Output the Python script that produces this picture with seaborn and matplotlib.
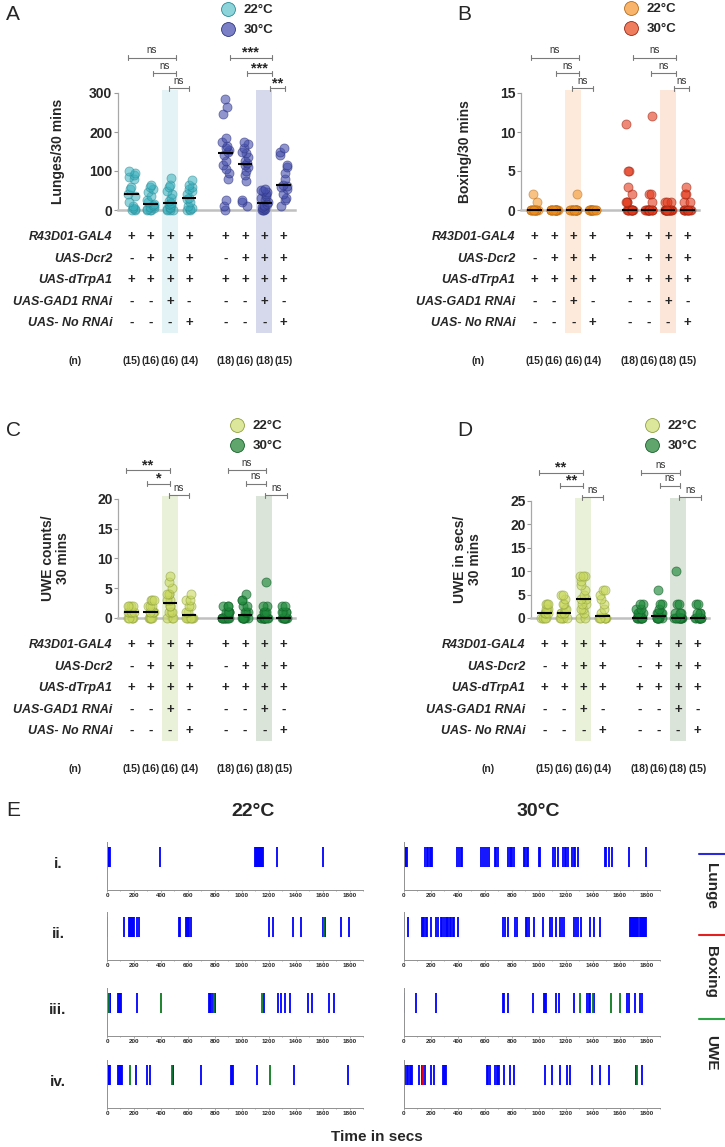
import numpy as np
import pandas as pd
import matplotlib
import matplotlib.pyplot as plt
import matplotlib.transforms as mtransforms
import matplotlib.ticker as mticker
from matplotlib.lines import Line2D
import seaborn as sns
matplotlib.use("Agg")

# ---------------- data ----------------
positions = [0, 1, 2, 3, 4.9, 5.9, 6.9, 7.9]
temps = ["22°C"] * 4 + ["30°C"] * 4
n_labels = ["(15)", "(16)", "(16)", "(14)", "(18)", "(16)", "(18)", "(15)"]

row_names = ["R43D01-GAL4", "UAS-Dcr2", "UAS-dTrpA1", "UAS-GAD1 RNAi", "UAS- No RNAi"]
gal4 = ["+", "+", "+", "+", "+", "+", "+", "+"]
dcr2 = ["-", "+", "+", "+", "-", "+", "+", "+"]
trpa1 = ["+", "+", "+", "+", "+", "+", "+", "+"]
gad1 = ["-", "-", "+", "-", "-", "-", "+", "-"]
no_rnai = ["-", "-", "-", "+", "-", "-", "-", "+"]

lunges = [
    [0, 0, 2, 5, 10, 20, 35, 40, 55, 60, 80, 85, 90, 95, 100],
    [0, 0, 0, 2, 5, 8, 10, 14, 16, 20, 25, 35, 45, 55, 60, 65],
    [0, 0, 0, 2, 5, 8, 12, 16, 18, 22, 30, 40, 50, 60, 65, 82],
    [0, 0, 2, 5, 10, 20, 28, 32, 40, 50, 55, 60, 65, 78],
    [0, 10, 25, 80, 95, 105, 115, 125, 140, 150, 155, 160, 165, 175, 185, 245, 265, 285],
    [10, 20, 25, 75, 90, 100, 110, 115, 120, 125, 135, 145, 150, 160, 170, 175],
    [0, 0, 0, 2, 5, 8, 10, 12, 15, 20, 25, 30, 35, 40, 45, 50, 52, 55],
    [10, 25, 30, 40, 55, 60, 62, 65, 80, 95, 110, 115, 140, 150, 160],
]
boxing = [
    [0] * 13 + [1, 2],
    [0] * 16,
    [0] * 15 + [2],
    [0] * 14,
    [0] * 10 + [1, 1, 1, 2, 3, 5, 5, 11],
    [0] * 12 + [1, 2, 2, 12],
    [0] * 15 + [1, 1, 1],
    [0] * 10 + [1, 1, 2, 2, 3],
]
uwe_counts = [
    [0] * 5 + [1] * 6 + [2] * 4,
    [0] * 5 + [1] * 5 + [2] * 3 + [3] * 3,
    [0, 0, 0, 1, 1, 1, 2, 2, 3, 3, 4, 4, 4, 5, 6, 7],
    [0] * 7 + [1, 1, 2, 2, 3, 3, 4],
    [0] * 10 + [1] * 5 + [2] * 3,
    [0] * 8 + [1, 1, 1, 2, 2, 3, 3, 4],
    [0] * 11 + [1] * 4 + [2, 2, 6],
    [0] * 9 + [1] * 4 + [2] * 2,
]
uwe_secs = [
    [0] * 5 + [1] * 4 + [2] * 3 + [3] * 3,
    [0, 0, 0, 0, 0, 1, 1, 1, 1, 2, 2, 3, 3, 4, 5, 5],
    [0, 0, 1, 2, 2, 3, 3, 4, 4, 5, 6, 7, 8, 9, 9, 9],
    [0] * 7 + [1, 2, 3, 4, 5, 6, 6],
    [0] * 10 + [1] * 4 + [2, 2, 3, 3],
    [0] * 8 + [1] * 4 + [2, 3, 3, 6],
    [0] * 12 + [1] * 3 + [3, 3, 10],
    [0] * 10 + [1] * 3 + [3, 3],
]

# ethograms (event times in secs)
x_ticks_time = [0, 200, 400, 600, 800, 1000, 1200, 1400, 1600, 1800]
eth_22_lunge = [
    [0, 6, 12, 18, 24, 396, 1095, 1103, 1110, 1118, 1126, 1134, 1142, 1150, 1160, 1262, 1603],
    [2, 126, 165, 172, 180, 188, 196, 203, 225, 234, 535, 545, 585, 592, 600, 610, 620,
     1205, 1232, 1380, 1437, 1603, 1620, 1738, 1795],
    [0, 5, 20, 25, 82, 90, 98, 106, 225, 755, 765, 775, 785, 800, 1165, 1270, 1288,
     1318, 1355, 1490, 1523, 1647, 1684],
    [0, 6, 12, 18, 24, 80, 88, 96, 104, 112, 218, 298, 316, 490, 695, 918, 926, 934,
     1113, 1390, 1788],
]
eth_22_box = [[], [], [], []]
eth_22_uwe = [[], [1612], [12, 400, 795, 1152], [168, 480, 1207]]

eth_30_lunge = [
    [0, 8, 16, 25, 158, 168, 178, 190, 200, 210, 392, 410, 420, 432, 571, 590, 600, 615,
     630, 672, 685, 700, 775, 785, 795, 805, 815, 890, 900, 910, 922, 1000, 1010, 1108,
     1118, 1140, 1180, 1195, 1205, 1218, 1250, 1262, 1272, 1288, 1490, 1502, 1520, 1545,
     1670, 1795],
    [0, 30, 133, 142, 150, 160, 172, 199, 238, 252, 275, 285, 300, 310, 318, 330, 340,
     350, 362, 370, 402, 735, 750, 770, 826, 836, 902, 912, 928, 965, 1030, 1087, 1102,
     1130, 1160, 1175, 1190, 1262, 1278, 1295, 1312, 1380, 1410, 1458, 1676, 1684, 1692,
     1700, 1708, 1716, 1724, 1732, 1740, 1748, 1756, 1764, 1772, 1780, 1788, 1796],
    [0, 87, 236, 735, 745, 770, 961, 1038, 1046, 1055, 1130, 1150, 1262, 1360, 1370,
     1380, 1410, 1658, 1668, 1713, 1750, 1765],
    [2, 10, 25, 33, 41, 49, 57, 112, 132, 140, 156, 199, 224, 286, 295, 305, 315, 613,
     625, 640, 678, 688, 698, 708, 740, 790, 819, 1050, 1100, 1160, 1209, 1229, 1395,
     1453, 1520, 1721, 1770],
]
eth_30_box = [[], [], [], [144]]
eth_30_uwe = [[], [], [1304, 1403, 1540, 1602], [1726]]
row_ids = ["i.", "ii.", "iii.", "iv."]

# ---------------- style ----------------
sns.set_style("ticks")
plt.rcParams["font.family"] = ["Liberation Sans", "DejaVu Sans"]
np.random.seed(4)

W, H = 725, 1147
fig = plt.figure(figsize=(W / 100, H / 100), dpi=100)


def px_axes(left, top, right, bottom):
    return fig.add_axes([left / W, 1 - bottom / H, (right - left) / W, (bottom - top) / H])


def make_df(values):
    rows = []
    for pos, t, vals in zip(positions, temps, values):
        for v in vals:
            rows.append({"pos": pos, "temp": t, "value": v})
    return pd.DataFrame(rows)


def scatter_panel(ax, values, top_px, bottom_px, ylim, yticks, ylabel, label_x,
                  cols, shade, brackets, legend_xy):
    hpx = bottom_px - top_px
    df = make_df(values)
    trans = mtransforms.blended_transform_factory(ax.transData, ax.transAxes)

    # shaded columns
    for pos, sc in zip([positions[2], positions[6]], shade):
        ax.axvspan(pos - 0.42, pos + 0.42, ymin=-123 / hpx, ymax=1 + 3 / hpx,
                   color=sc, lw=0, zorder=0, clip_on=False)

    for t, (fc, ec, al, _) in zip(["22°C", "30°C"], cols):
        sub = df[df["temp"] == t]
        sns.stripplot(data=sub, x="pos", y="value", native_scale=True, orient="x",
                      jitter=0.2, size=6.5, color=fc, edgecolor=ec, linewidth=0.6,
                      alpha=al, ax=ax, zorder=3)
    for c in ax.collections:
        c.set_clip_on(False)

    med = df.groupby("pos")["value"].median()
    ax.hlines(med.values, med.index - 0.38, med.index + 0.38, color="black",
              lw=1.5, zorder=5, clip_on=False)

    ax.set_xlim(-0.7, 8.5)
    ax.set_ylim(*ylim)
    ax.set_yticks(yticks)
    ax.set_xticks([])
    ax.set_xlabel("")
    ax.set_ylabel(ylabel, fontsize=10, fontweight="bold", linespacing=1.1)
    ax.yaxis.set_label_coords(label_x, 0.5)
    for lab in ax.get_yticklabels():
        lab.set_fontweight("bold")
    ax.tick_params(axis="y", labelsize=10, color="#9a9a9a", length=3, width=0.8, pad=1)
    sns.despine(ax=ax)
    ax.spines["left"].set_color("#a8a8a8")
    ax.spines["left"].set_linewidth(0.9)
    ax.spines["bottom"].set_color("#c0c0c0")
    ax.spines["bottom"].set_linewidth(1.8)
    ax.patch.set_alpha(0)

    # genotype table
    table = [gal4, dcr2, trpa1, gad1, no_rnai]
    offs = [27, 49, 70, 92, 113]
    for name, row, off in zip(row_names, table, offs):
        yf = -off / hpx
        ax.text(-0.03, yf, name, transform=ax.transAxes, ha="right", va="center",
                fontsize=9, fontweight="bold", fontstyle="italic")
        for pos, s in zip(positions, row):
            ax.text(pos, yf, s, transform=trans, ha="center", va="center",
                    fontsize=9.5, fontweight="bold")
    yn = -151 / hpx
    ax.text(-0.24, yn, "(n)", transform=ax.transAxes, ha="center", va="center",
            fontsize=7.5, fontweight="bold")
    for pos, s in zip(positions, n_labels):
        ax.text(pos, yn, s, transform=trans, ha="center", va="center",
                fontsize=7.5, fontweight="bold")

    # significance brackets
    for x0, x1, yf, lab in brackets:
        y = yf
        d = 2.5 / hpx
        ax.plot([x0, x1], [y, y], transform=trans, color="#7a7a7a", lw=0.8,
                clip_on=False)
        for xx in (x0, x1):
            ax.plot([xx, xx], [y - d, y + d], transform=trans, color="#7a7a7a",
                    lw=0.8, clip_on=False)
        if lab == "ns":
            ax.text((x0 + x1) / 2, y + 2.5 / hpx, lab, transform=trans, ha="center",
                    va="bottom", fontsize=7, color="#333333")
        else:
            ax.text((x0 + x1) / 2, y - 2 / hpx, lab, transform=trans, ha="center",
                    va="bottom", fontsize=10.5, fontweight="bold")

    # legend
    lx, ly = legend_xy
    handles = [Line2D([0], [0], marker="o", ls="", ms=10, mfc=c[3], mec=c[1], mew=0.6)
               for c in cols]
    ax.legend(handles, ["22°C", "30°C"], loc="upper left",
              bbox_to_anchor=((lx - 7) / W, 1 - (ly - 4) / H),
              bbox_transform=fig.transFigure, frameon=False, borderpad=0,
              borderaxespad=0, handlelength=1.1, handletextpad=0.6,
              labelspacing=0.6, prop={"weight": "bold", "size": 9.5})


cyan = ("#38b0bd", "#2a8a95", 0.55, "#8cd4da")
purple = ("#4650ad", "#2e3480", 0.6, "#7b80c6")
orange = ("#f2901e", "#b86a18", 0.55, "#f7b46a")
red = ("#e43a1c", "#9a2412", 0.6, "#ee7d5e")
lime = ("#c8d85c", "#90a040", 0.6, "#dce79c")
green = ("#1e8a3a", "#14602a", 0.65, "#5fa56c")

br22 = [(-0.2, 2.3, 1.30), (1.1, 2.3, 1.17), (1.95, 3.0, 1.04)]
br30 = [(5.1, 7.3, 1.30), (6.0, 7.3, 1.17), (7.2, 8.0, 1.04)]


def mk(br, labs):
    return [b + (l,) for b, l in zip(br, labs)]


axA = px_axes(118, 93, 295, 210)
scatter_panel(axA, lunges, 93, 210, (0, 300), [0, 100, 200, 300], "Lunges/30 mins",
              -0.3, [cyan, purple], ["#e4f3f6", "#d6d8ec"],
              mk(br22, ["ns", "ns", "ns"]) + mk(br30, ["***", "***", "**"]), (228, 8))

axB = px_axes(521, 93, 699, 210)
scatter_panel(axB, boxing, 93, 210, (0, 15), [0, 5, 10, 15], "Boxing/30 mins",
              -0.275, [orange, red], ["#fdeadb", "#fce6da"],
              mk(br22, ["ns", "ns", "ns"]) + mk(br30, ["ns", "ns", "ns"]), (631, 7))

br22c = [(-0.3, 2.0, 1.24), (0.8, 2.0, 1.13), (1.95, 3.0, 1.03)]
br30c = [(5.0, 7.0, 1.24), (5.95, 7.0, 1.13), (6.95, 8.1, 1.03)]
axC = px_axes(118, 499, 295, 618)
scatter_panel(axC, uwe_counts, 499, 618, (0, 20), [0, 5, 10, 15, 20],
              "UWE counts/\n30 mins", -0.27, [lime, green], ["#e9f1d9", "#dbe4d8"],
              mk(br22c, ["**", "*", "ns"]) + mk(br30c, ["ns", "ns", "ns"]), (237, 424))

axD = px_axes(531, 501, 709, 618)
scatter_panel(axD, uwe_secs, 501, 618, (0, 25), [0, 5, 10, 15, 20, 25],
              "UWE in secs/\n30 mins", -0.275, [lime, green], ["#e9f1d9", "#dbe4d8"],
              mk(br22c, ["**", "**", "ns"]) + mk(br30c, ["ns", "ns", "ns"]), (652, 424))

# panel letters
for letter, x, y in [("A", 6, 14), ("B", 457, 14), ("C", 6, 430), ("D", 457, 430),
                     ("E", 6, 810)]:
    fig.text(x / W, 1 - y / H, letter, fontsize=15, ha="left", va="center")

# ---------------- ethograms ----------------
tops = [842, 912, 988, 1060]
ev_colors = {"lunge": "#0000ff", "box": "#ff0000", "uwe": "#0b7a1c"}
for col, (left, right, lun, box, uwe) in enumerate([
        (107, 363, eth_22_lunge, eth_22_box, eth_22_uwe),
        (404, 660, eth_30_lunge, eth_30_box, eth_30_uwe)]):
    for r, top in enumerate(tops):
        ax = px_axes(left, top, right, top + 48)
        ax.vlines(lun[r], 0.47, 0.9, colors=ev_colors["lunge"], lw=1.3)
        ax.vlines(uwe[r], 0.47, 0.9, colors=ev_colors["uwe"], lw=1.3)
        ax.vlines(box[r], 0.47, 0.9, colors=ev_colors["box"], lw=1.3)
        ax.set_xlim(0, 1900)
        ax.set_ylim(0, 1)
        ax.set_yticks([])
        ax.set_xticks(x_ticks_time)
        ax.xaxis.set_minor_locator(mticker.MultipleLocator(100))
        ax.tick_params(axis="x", which="both", labelsize=4.5, length=1.5, width=0.5,
                       color="#888888", pad=1)
        ax.tick_params(axis="x", which="minor", length=1)
        for lab in ax.get_xticklabels():
            lab.set_fontweight("bold")
        sns.despine(ax=ax)
        ax.spines["left"].set_color("#909090")
        ax.spines["bottom"].set_color("#909090")
        ax.spines["left"].set_linewidth(0.7)
        ax.spines["bottom"].set_linewidth(0.7)
        if col == 0:
            fig.text(58 / W, 1 - (top + 22) / H, row_ids[r], fontsize=11,
                     fontweight="bold", ha="center", va="center")

fig.text(253 / W, 1 - 812 / H, "22°C", fontsize=14, fontweight="bold",
         ha="center", va="center")
fig.text(538 / W, 1 - 812 / H, "30°C", fontsize=14, fontweight="bold",
         ha="center", va="center")
fig.text(377 / W, 1 - 1137 / H, "Time in secs", fontsize=11, fontweight="bold",
         ha="center", va="center")

for lab, col, ly, ty in [("Lunge", "#2a2adb", 854, 886), ("Boxing", "#e32020", 935, 972),
                         ("UWE", "#2ca444", 1019, 1053)]:
    fig.add_artist(Line2D([699 / W, 725 / W], [1 - ly / H, 1 - ly / H], color=col, lw=1.5))
    fig.text(711 / W, 1 - ty / H, lab, rotation=-90, fontsize=11, fontweight="bold",
             ha="center", va="center")

fig.savefig("out.png", dpi=100)
plt.close(fig)
